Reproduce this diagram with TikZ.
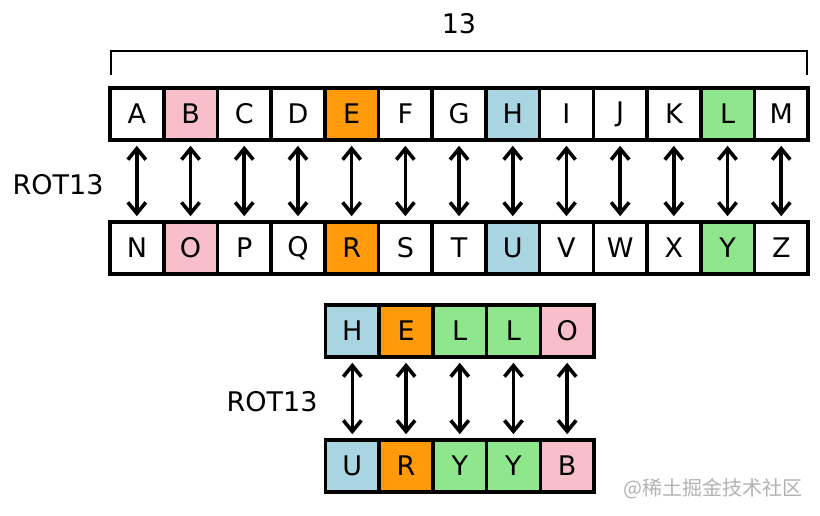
\documentclass[tikz,border=0pt]{standalone}
\usepackage{fontspec}
\setmainfont{DejaVu Sans}
\newfontfamily\cjk{Noto Sans CJK SC}
\usetikzlibrary{arrows.meta}
\definecolor{cpink}{HTML}{F8BFCB}
\definecolor{corange}{HTML}{FF9A0A}
\definecolor{cblue}{HTML}{A9D5E3}
\definecolor{cgreen}{HTML}{8FE68C}
\tikzset{
 lbox/.style={draw=black,line width=3.6pt,minimum width=53.7pt,minimum height=52pt,inner sep=0pt,font=\fontsize{27}{27}\selectfont},
 darr/.style={line width=3.6pt,{Straight Barb[length=11pt,width=18pt,line width=3.6pt]}-{Straight Barb[length=11pt,width=18pt,line width=3.6pt]},shorten <=4pt,shorten >=4pt},
 lab/.style={font=\fontsize{27}{27}\selectfont}
}
\begin{document}
\begin{tikzpicture}[x=1pt,y=-1pt]
\useasboundingbox (0,0) rectangle (820,515);
\def\w{53.7}
\foreach \t/\b/\c [count=\i from 0] in {A/N/white,B/O/cpink,C/P/white,D/Q/white,E/R/corange,F/S/white,G/T/white,H/U/cblue,I/V/white,J/W/white,K/X/white,L/Y/cgreen,M/Z/white}{
  \node[lbox,fill=\c] (t\i) at ({110+\w/2+\i*\w},114) {\t};
  \node[lbox,fill=\c] (b\i) at ({110+\w/2+\i*\w},248) {\b};
  \draw[darr] (t\i.south) -- (b\i.north);
}
\foreach \t/\b/\c [count=\i from 0] in {H/U/cblue,E/R/corange,L/Y/cgreen,L/Y/cgreen,O/B/cpink}{
  \node[lbox,fill=\c] (h\i) at ({325.5+\w/2+\i*\w},331) {\t};
  \node[lbox,fill=\c] (r\i) at ({325.5+\w/2+\i*\w},466) {\b};
  \draw[darr] (h\i.south) -- (r\i.north);
}
\coordinate (bl) at (111,75);
\coordinate (br) at (807,75);
\draw[line width=2.2pt] (bl) -- ++(0,-24) -| (br);
\node[lab] (n13) at (459,24) {13};
\node[lab] (rot1) at (58,185) {ROT13};
\node[lab] (rot2) at (272,402) {ROT13};
\node[text=gray!60,font=\cjk\fontsize{20}{20}\selectfont,anchor=east] (wm) at (806,489) {@稀土掘金技术社区};
\end{tikzpicture}
\end{document}
